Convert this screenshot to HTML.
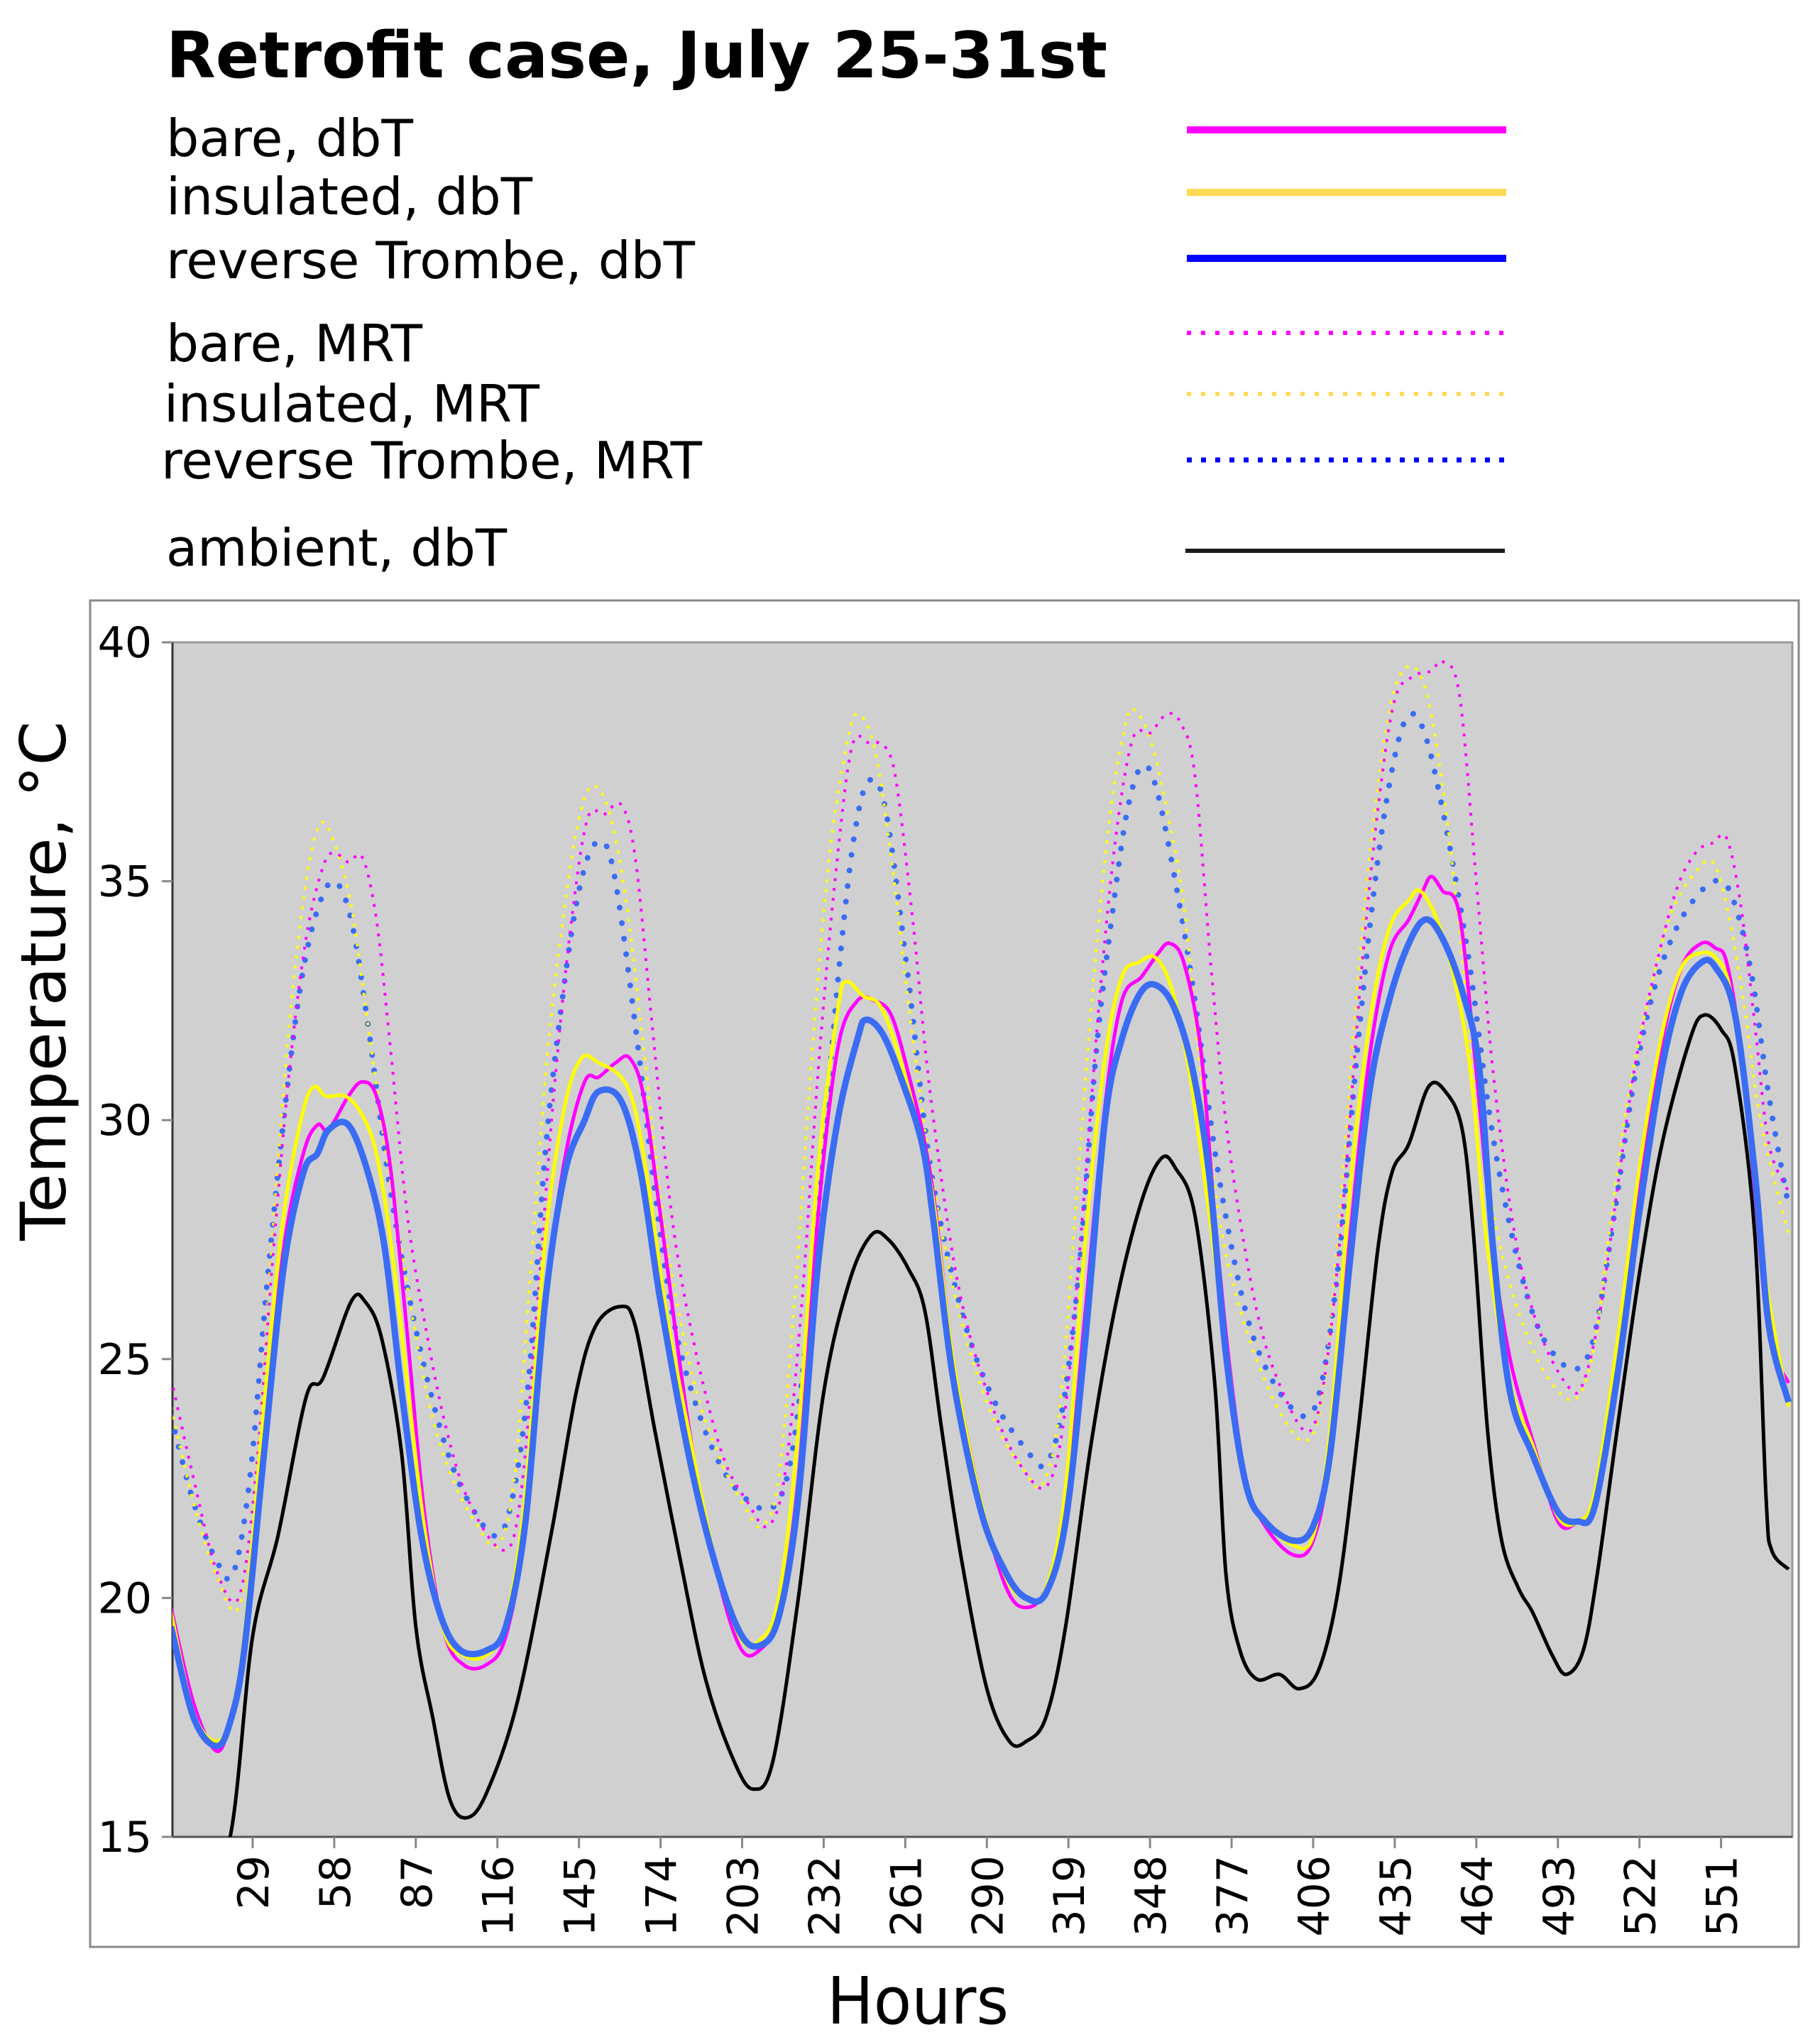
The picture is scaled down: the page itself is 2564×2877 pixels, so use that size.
<!DOCTYPE html>
<html><head><meta charset="utf-8"><style>
html,body{margin:0;padding:0;background:#fff}
svg{display:block}
text{font-family:"DejaVu Sans","Liberation Sans",sans-serif;fill:#000}
</style></head><body>
<svg id="chart" width="2564" height="2877" viewBox="0 0 2564 2877" xmlns="http://www.w3.org/2000/svg">
<text x="234" y="109" font-size="90" font-weight="bold" textLength="1326" lengthAdjust="spacingAndGlyphs">Retrofit case, July 25-31st</text>
<g>
<text x="234" y="220" font-size="72" textLength="348" lengthAdjust="spacingAndGlyphs">bare, dbT</text>
<text x="234" y="302" font-size="72" textLength="516" lengthAdjust="spacingAndGlyphs">insulated, dbT</text>
<text x="234" y="392" font-size="72" textLength="745" lengthAdjust="spacingAndGlyphs">reverse Trombe, dbT</text>
<text x="234" y="509" font-size="72" textLength="361" lengthAdjust="spacingAndGlyphs">bare, MRT</text>
<text x="231" y="594" font-size="72" textLength="529" lengthAdjust="spacingAndGlyphs">insulated, MRT</text>
<text x="227" y="674" font-size="72" textLength="762" lengthAdjust="spacingAndGlyphs">reverse Trombe, MRT</text>
<text x="234" y="797" font-size="72" textLength="480" lengthAdjust="spacingAndGlyphs">ambient, dbT</text>
<line x1="1672" y1="183" x2="2122" y2="183" stroke="#ff00ff" stroke-width="10"/>
<line x1="1672" y1="271" x2="2122" y2="271" stroke="#ffd955" stroke-width="10"/>
<line x1="1672" y1="364" x2="2122" y2="364" stroke="#0000ff" stroke-width="10"/>
<line x1="1672" y1="469" x2="2122" y2="469" stroke="#ff00ff" stroke-width="6" stroke-dasharray="6 14"/>
<line x1="1672" y1="555" x2="2122" y2="555" stroke="#ffd955" stroke-width="6" stroke-dasharray="6 14"/>
<line x1="1672" y1="648" x2="2122" y2="648" stroke="#0000ff" stroke-width="7" stroke-dasharray="7 13"/>
<line x1="1670" y1="776" x2="2120" y2="776" stroke="#1a1a1a" stroke-width="6"/>
</g>
<rect x="127" y="846" width="2407" height="1897" fill="#fff" stroke="#888" stroke-width="3"/>
<rect x="243" y="905" width="2282" height="1683" fill="#d0d0d0" stroke="#999" stroke-width="3"/>
<line x1="243" y1="905" x2="243" y2="2588" stroke="#333" stroke-width="3"/>
<line x1="243" y1="2588" x2="2525" y2="2588" stroke="#555" stroke-width="3"/>
<defs><clipPath id="pc"><rect x="243" y="905" width="2282" height="1683"/></clipPath></defs>
<g id="series" clip-path="url(#pc)"></g>
<g id="axes"></g>
<text transform="translate(92,1382) rotate(-90)" text-anchor="middle" font-size="88" textLength="732" lengthAdjust="spacingAndGlyphs">Temperature, °C</text>
<text x="1293" y="2851" text-anchor="middle" font-size="92" textLength="256" lengthAdjust="spacingAndGlyphs">Hours</text>
</svg>
<script>
const xTicks=[29,58,87,116,145,174,203,232,261,290,319,348,377,406,435,464,493,522,551];
const yTicks=[15,20,25,30,35,40];
const ambH=[0,10,21,29,38,48,54,64,69,75,82,87,93,99,105,112,123,135,144,151,160,165,172,181,190,200,207,214,223,232,241,249,255,262,268,274,281,290,298,304,311,318,327,336,345,352,357,364,371,375,380,386,394,401,408,415,422,429,434,440,447,453,459,463,468,473,479,484,491,496,502,507,514,522,530,540,545,551,556,563,567,569,575];
const ambV=[12.5,13.8,15,19.2,21.3,24.2,24.6,26.2,26.2,25.4,23,19.4,17.5,15.8,15.4,15.9,17.8,21.3,24.3,25.7,26.1,25.7,23.5,20.8,18.3,16.6,16,16.6,20,24.3,26.6,27.6,27.5,26.9,26,23.5,20.8,18.1,17,17,17.5,19.4,23.2,26.2,28.3,29.2,29.0,28.0,24.5,20.5,18.9,18.3,18.4,18.1,18.5,20.2,23.5,27.3,28.9,29.5,30.7,30.6,29.8,27.6,23.5,21.2,20.2,19.7,18.8,18.4,18.9,20.5,23.5,26.8,29.5,31.7,32.2,31.9,31.1,27.6,22.1,21,20.6];
const trDbH=[0,8,16,21,26,33,40,47,52,56,63,70,76,82,89,96,103,112,119,126,133,140,147,152,160,167,174,184,193,202,209,216,223,230,237,244,247,253,260,267,271,278,288,297,304,311,318,325,332,338,345,351,357,363,369,375,382,389,399,406,412,419,426,433,440,446,452,459,465,470,476,484,493,500,506,514,522,530,537,544,549,556,563,568,575];
const trDbV=[19.4,17.5,16.9,17.4,18.9,23,26.9,28.9,29.3,29.8,29.9,28.9,27.3,24.3,21.3,19.6,18.9,18.9,19.4,21.6,26.2,28.9,30,30.6,30.4,28.9,26.2,23,20.8,19.3,19,19.6,22.1,27,30,31.7,32.1,31.8,30.8,29.5,27.9,24.6,21.8,20.5,20,20.1,21.6,25.4,30,31.7,32.7,32.8,32.3,31.1,28.9,25.1,22.4,21.6,21.2,21.5,23,27,30.6,32.5,33.7,34.2,33.8,32.7,31.1,27.3,24.3,23,21.8,21.6,21.9,24.6,28.1,31.1,32.7,33.3,33.2,32.2,28.9,25.7,24.1];
const bareDbH=[0,8,16,21,26,33,40,47,52,56,63,68,73,78,84,90,97,104,112,119,126,133,140,147,152,158,163,168,174,184,193,202,209,216,223,230,237,244,250,256,262,268,272,278,288,297,304,311,318,325,332,338,345,351,355,360,366,371,376,382,389,399,406,412,419,426,433,440,445,448,452,458,464,470,476,484,493,500,506,514,522,530,537,544,549,553,558,563,568,575];
const bareDbV=[19.8,17.8,16.8,17.4,19,23.3,27.3,29.3,29.9,29.8,30.5,30.8,30.5,29,25.5,21.8,19.3,18.6,18.6,19.2,21.5,26.2,29.2,30.8,30.9,31.2,31.3,30.5,28,23.6,20.8,19,18.9,19.7,22.5,28,31.5,32.5,32.5,32.2,31,29.5,28,25,22,20.2,19.8,20.2,21.8,26,30.3,32.5,33,33.5,33.7,33.3,31.5,28,25,22.5,21.5,20.9,21.2,23,27.5,31.3,33.5,34.2,34.8,35.1,34.8,34.3,31,27.3,25,23.3,21.6,21.6,22,24.8,28.5,31.6,33.2,33.7,33.6,33.3,31.5,28.5,25.5,24.5];
const insDbH=[0,8,16,21,26,33,40,47,51,55,62,68,73,78,84,90,97,104,112,119,126,133,140,146,152,160,165,170,176,184,193,202,209,216,223,230,237,240,246,252,258,265,271,278,288,297,304,311,318,325,332,338,344,350,356,362,368,375,382,389,399,406,412,419,426,433,440,444,450,456,462,468,476,484,493,500,506,514,522,530,537,544,549,554,560,566,575];
const insDbV=[19.7,17.6,17,17.5,19.2,24,28,30.2,30.7,30.5,30.5,30.1,29.3,27.5,24.5,21.5,19.3,18.8,18.8,19.5,22.2,27.5,30.3,31.3,31.2,30.9,30.2,28.5,26,23.5,20.9,19.2,19.1,20,23.5,29,32.3,32.9,32.6,32.4,31.5,30,28.3,25,22,20.4,20,20.2,22.3,27.5,31.3,33,33.3,33.4,32.7,31,28.5,25.3,22.4,21.6,21.1,21.3,23.5,28.5,32,34,34.6,34.8,34.2,33,31,27.3,24.5,23.2,21.7,21.6,22.2,25.3,29,31.8,33.2,33.5,33.4,32.8,30.5,27,24];
const trMrtH=[0,8,16,22,28,34,40,46,52,58,64,70,77,84,91,98,105,115,121,127,133,139,145,151,157,165,172,179,188,197,206,214,220,226,232,238,243,248,254,262,270,281,292,304,311,317,323,329,335,340,345,350,357,364,372,382,392,403,409,415,421,427,433,439,445,452,461,469,477,485,493,500,506,513,520,527,535,544,551,556,562,568,575];
const trMrtV=[23.8,22,20.8,20.5,22.5,26.5,30,32.8,34.4,35,34.2,32,28.9,26.5,24.6,23.1,22.1,21.3,22,24.5,29.3,32.5,34.8,35.8,35.3,32,28.5,25.7,23.8,22.6,22,21.9,22.8,25.5,29.5,33.5,36,37.1,36.5,33,29,26,24.2,23.1,22.8,24,27,31.5,34.5,36.5,37.4,37,35,32.5,29,26,24.5,23.8,24.5,27,31,34.5,37,38.4,38.2,36.5,33.5,30,27.5,25.8,25,24.8,25.5,28,30.8,32.7,34,34.8,35,34.5,33,30.5,28.2];
const bareMrtH=[0,8,16,24,30,36,42,48,54,58,63,68,73,78,84,91,98,106,118,124,130,136,142,148,154,160,165,171,178,186,196,205,212,218,224,230,236,242,248,254,258,264,270,280,292,304,312,318,324,330,336,342,348,354,359,364,370,376,386,396,405,411,417,423,429,435,442,448,452,458,464,470,478,487,497,502,508,514,520,527,535,542,548,553,558,563,568,575];
const bareMrtV=[24.6,22.5,20.6,20,22.5,27,31,33.8,35.3,35.6,35.4,35.5,34.2,31.5,28,25.5,23.5,22,21,22,26,30.5,34,36.3,36.4,36.6,35.5,32,28,25.3,23,22,21.5,22.5,26,31,35,37.8,37.9,37.8,37,34,30.5,26.5,24,22.6,22.4,24,28,32.5,36,38,38.1,38.5,38.3,37.2,33,29.5,26,24.2,23.5,25,28.5,33,36.5,38.8,39.3,39.4,39.6,38.9,35,31,27.5,25.5,24.4,24.5,26,28.5,31,33,34.8,35.6,35.8,35.9,34.5,32,29.5,28.5];
const insMrtH=[0,8,16,24,30,36,42,48,53,58,64,70,76,84,92,100,108,116,122,128,134,140,145,150,156,162,168,176,186,196,204,210,216,222,228,234,240,244,250,256,262,270,280,292,304,310,316,322,328,334,339,342,348,354,360,366,374,384,395,404,410,416,422,428,434,440,446,452,458,464,472,482,492,500,506,512,518,525,533,542,548,553,559,565,575];
const insMrtV=[24,22,20.5,19.8,22.5,27.5,32,35,36.2,35.8,34.5,32,29.5,26.5,24,22.5,21.6,21.1,22.5,27,31.5,34.5,36.3,37,36.4,34.5,31.5,27.5,24.5,22.8,21.9,21.5,22.5,26.5,31.5,35.5,37.8,38.5,37.8,35.5,32.5,29,26,23.8,22.6,22.4,24,28.5,33,36.5,38.2,38.6,38,36.5,34.5,31,27.5,25.3,23.8,23.3,24.5,28.5,33,36.5,38.8,39.5,39,37,34,30.5,27.5,25.5,24.4,24.2,25.3,28,30.5,32.5,34.3,35.2,35.4,34.5,32.5,30,27.6];

const X0=241,PXH=3.963,YB=2588,YT=905,YMIN=15,YMAX=40;
function xs(h){return X0+h*PXH;}
function ys(v){return YB-(v-YMIN)/(YMAX-YMIN)*(YB-YT);}
const NS='http://www.w3.org/2000/svg';
function smooth(H,V){
  const p=H.map((h,i)=>[xs(h),ys(V[i])]);
  let d='M'+p[0][0].toFixed(1)+','+p[0][1].toFixed(1);
  for(let i=0;i<p.length-1;i++){
    const a=p[Math.max(0,i-1)],b=p[i],c=p[i+1],e=p[Math.min(p.length-1,i+2)];
    const c1x=b[0]+(c[0]-a[0])/6,c1y=b[1]+(c[1]-a[1])/6,c2x=c[0]-(e[0]-b[0])/6,c2y=c[1]-(e[1]-b[1])/6;
    d+=' C'+c1x.toFixed(1)+','+c1y.toFixed(1)+' '+c2x.toFixed(1)+','+c2y.toFixed(1)+' '+c[0].toFixed(1)+','+c[1].toFixed(1);
  }
  return d;
}
const g=document.getElementById('series');
function addLine(name,H,V,color,w,dash,cap){
  const el=document.createElementNS(NS,'path');
  el.setAttribute('d',smooth(H,V));
  el.setAttribute('fill','none');
  el.setAttribute('stroke',color);
  el.setAttribute('stroke-width',w);
  el.setAttribute('stroke-linejoin','round');
  if(dash)el.setAttribute('stroke-dasharray',dash);
  if(cap)el.setAttribute('stroke-linecap',cap);
  
  
  g.appendChild(el);
}
addLine('line-ambient-dbt',ambH,ambV,'#000',5);
addLine('line-trombe-mrt',trMrtH,trMrtV,'#3a6cf4',8,'0.1 22','round');
addLine('line-insulated-mrt',insMrtH,insMrtV,'#ffff00',4,'4 10');
addLine('line-bare-mrt',bareMrtH,bareMrtV,'#ff00ff',4,'4 10');
addLine('line-bare-dbt',bareDbH,bareDbV,'#ff00ff',5);
addLine('line-insulated-dbt',insDbH,insDbV,'#ffff00',5);
addLine('line-trombe-dbt',trDbH,trDbV,'#3a6cf4',9);

const ax=document.getElementById('axes');
yTicks.forEach(v=>{
  const t=document.createElementNS(NS,'text');
  t.setAttribute('x',214);t.setAttribute('y',ys(v)+21);
  t.setAttribute('text-anchor','end');t.setAttribute('font-size','60');
  t.textContent=v;
  
  
  ax.appendChild(t);
  const l=document.createElementNS(NS,'line');
  l.setAttribute('x1',228);l.setAttribute('x2',243);l.setAttribute('y1',ys(v));l.setAttribute('y2',ys(v));
  l.setAttribute('stroke','#888');l.setAttribute('stroke-width','3');
  
  
  ax.appendChild(l);
});
xTicks.forEach(h=>{
  const x=xs(h);
  const l=document.createElementNS(NS,'line');
  l.setAttribute('x1',x);l.setAttribute('x2',x);l.setAttribute('y1',YB);l.setAttribute('y2',YB+16);
  l.setAttribute('stroke','#888');l.setAttribute('stroke-width','3');
  
  
  ax.appendChild(l);
  const t=document.createElementNS(NS,'text');
  t.setAttribute('transform','translate('+(x+22)+','+(YB+26)+') rotate(-90)');
  t.setAttribute('text-anchor','end');t.setAttribute('font-size','60');
  t.textContent=h;
  
  
  ax.appendChild(t);
});
</script>
</body></html>
